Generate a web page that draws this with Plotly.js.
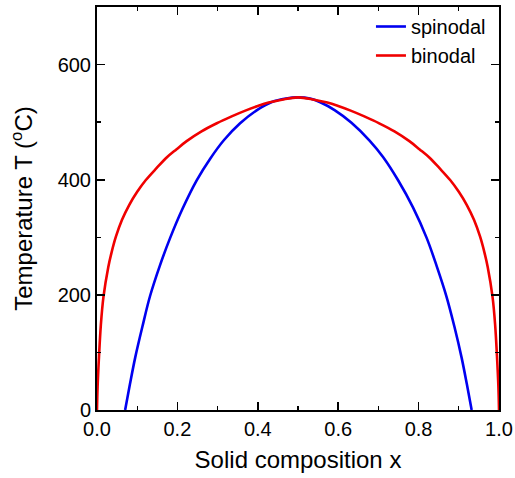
<!DOCTYPE html>
<html>
<head>
<meta charset="utf-8">
<script src="https://cdn.plot.ly/plotly-3.0.1.min.js"></script>
<style>html,body{margin:0;padding:0;background:#fff;}#chart{width:515px;height:478px;}</style>
</head>
<body>
<div id="chart"></div>
<script>
// Spinodal curve (composition x, temperature in °C)
const spinodalX = [0.070, 0.082, 0.095, 0.113, 0.132, 0.156, 0.182, 0.213, 0.248, 0.282, 0.316, 0.356, 0.398, 0.435, 0.470, 0.500, 0.530, 0.554, 0.591, 0.633, 0.678, 0.712, 0.749, 0.786, 0.820, 0.845, 0.869, 0.889, 0.907, 0.920, 0.932];
const spinodalT = [0, 45, 91, 145, 198, 250, 299, 350, 399, 437, 469, 498, 521, 535, 541, 543, 541, 535, 521, 499, 468, 439, 399, 352, 299, 250, 198, 145, 91, 45, 0];

// Binodal curve (composition x, temperature in °C)
const binodalX = [0, 0.0015, 0.005, 0.0095, 0.016, 0.028, 0.036, 0.047, 0.062, 0.080, 0.100, 0.121, 0.148, 0.174, 0.198, 0.223, 0.260, 0.298, 0.335, 0.369, 0.400, 0.427, 0.460, 0.500,
                  0.540, 0.573, 0.600, 0.631, 0.665, 0.702, 0.740, 0.777, 0.802, 0.826, 0.852, 0.879, 0.900, 0.920, 0.938, 0.953, 0.964, 0.972, 0.984, 0.9905, 0.995, 0.9985, 1.0];
const binodalT = [0, 40, 93, 147, 196, 248, 273, 301, 330, 356, 379, 399, 420, 439, 453, 467, 484, 498, 510, 520, 528, 534, 539, 543,
                  539, 534, 528, 520, 510, 498, 484, 467, 453, 439, 420, 399, 379, 356, 330, 301, 273, 248, 196, 147, 93, 40, 0];

const seriesNames = ["spinodal", "binodal"];
const xTitle = "Solid composition x";
const yTitle = "Temperature T (<sup>o</sup>C)";

const FONT = "Arial, 'Liberation Sans', sans-serif";

const traces = [
  {x: spinodalX, y: spinodalT, name: seriesNames[0], type: "scatter", mode: "lines",
   line: {color: "#0000f0", width: 2.6, shape: "spline", smoothing: 1}},
  {x: binodalX, y: binodalT, name: seriesNames[1], type: "scatter", mode: "lines",
   line: {color: "#f00000", width: 2.6, shape: "spline", smoothing: 1}}
];

const axisCommon = {
  showline: true, linecolor: "#000", linewidth: 2,
  mirror: "ticks", ticks: "inside", ticklen: 8, tickwidth: 1.6, tickcolor: "#000",
  showgrid: false, zeroline: false,
  tickfont: {family: FONT, size: 20, color: "#000"}
};

const layout = {
  width: 515, height: 478,
  margin: {l: 97, r: 16, t: 7, b: 68},
  paper_bgcolor: "#fff", plot_bgcolor: "#fff",
  showlegend: true,
  legend: {x: 0.98, xanchor: "right", y: 1, yanchor: "top", bgcolor: "rgba(0,0,0,0)",
           font: {family: FONT, size: 20, color: "#000"}, tracegroupgap: 0, itemwidth: 30},
  xaxis: Object.assign({}, axisCommon, {
    range: [0, 1], dtick: 0.2, tick0: 0, tickformat: ".1f",
    minor: {ticks: "inside", ticklen: 4, tickwidth: 1.4, tickcolor: "#000", dtick: 0.1, showgrid: false},
    title: {text: xTitle, font: {family: FONT, size: 24, color: "#000"}, standoff: 12}
  }),
  yaxis: Object.assign({}, axisCommon, {
    range: [0, 700], dtick: 200, tick0: 0,
    minor: {ticks: "inside", ticklen: 4, tickwidth: 1.4, tickcolor: "#000", dtick: 100, showgrid: false},
    title: {text: yTitle, font: {family: FONT, size: 24, color: "#000"}, standoff: 18}
  })
};

Plotly.newPlot("chart", traces, layout, {displayModeBar: false, staticPlot: true});
</script>
</body>
</html>
